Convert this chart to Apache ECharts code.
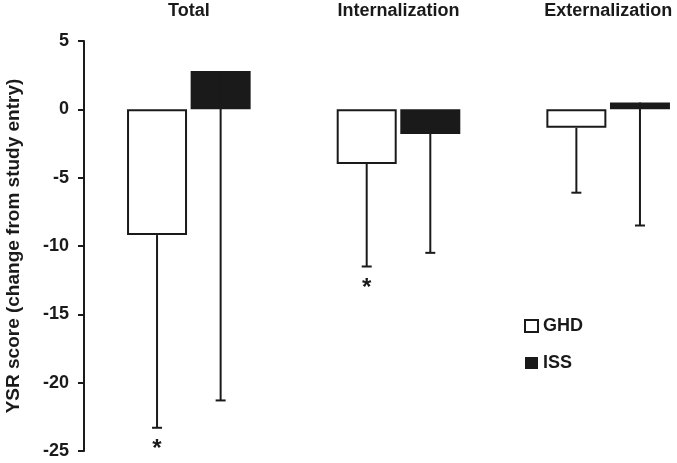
<!DOCTYPE html>
<html>
<head>
<meta charset="utf-8">
<script src="https://cdn.jsdelivr.net/npm/echarts@6/dist/echarts.min.js"></script>
<style>
  html, body { margin: 0; padding: 0; background: #fff; }
  #chart { width: 677px; height: 463px; }
</style>
</head>
<body>
<div id="chart"></div>
<script>
var categories = ['Total', 'Internalization', 'Externalization'];
var ghdMean = [-9.2, -4.0, -1.35];
var ghdLow = [-23.3, -11.5, -6.1];
var issMean = [2.8, -1.8, 0.5];
var issLow = [-21.3, -10.5, -8.5];
var ghdStar = [1, 1, 0];

var ink = '#1a1a1a';
var font = '"Liberation Sans", Arial, sans-serif';
var barW = 60;
var gapPx = 3.6;
var shift = (barW + gapPx) / 2;

function errData(mean, low, star) {
    var out = [];
    for (var i = 0; i < mean.length; i++) {
        out.push([i, mean[i], low[i], star ? star[i] : 0]);
    }
    return out;
}

function errRender(offset) {
    return function (params, api) {
        var x = api.coord([api.value(0), 0])[0] + offset;
        var yTop = api.coord([api.value(0), api.value(1)])[1];
        var yBot = api.coord([api.value(0), api.value(2)])[1];
        var kids = [
            { type: 'line', shape: { x1: x, y1: yTop, x2: x, y2: yBot }, style: { stroke: ink, lineWidth: 2 } },
            { type: 'line', shape: { x1: x - 5, y1: yBot, x2: x + 5, y2: yBot }, style: { stroke: ink, lineWidth: 2 } }
        ];
        if (api.value(3)) {
            kids.push({
                type: 'text',
                style: { text: '*', x: x, y: yBot + 10, fill: ink, font: 'bold 24px ' + font, align: 'center', verticalAlign: 'top' }
            });
        }
        return { type: 'group', children: kids };
    };
}

var chart = echarts.init(document.getElementById('chart'));
chart.setOption({
    animation: false,
    backgroundColor: '#fff',
    grid: { left: 84, top: 41, width: 629, bottom: 12, containLabel: false, outerBoundsMode: 'none' },
    legend: {
        orient: 'vertical',
        left: 524,
        top: 317,
        padding: 0,
        itemWidth: 13,
        itemHeight: 12,
        itemGap: 19,
        textStyle: { color: ink, fontFamily: font, fontWeight: 'bold', fontSize: 18 },
        data: [
            { name: 'GHD', icon: 'rect', itemStyle: { color: '#fff', borderColor: ink, borderWidth: 2 } },
            { name: 'ISS', icon: 'rect', itemStyle: { color: ink, borderWidth: 0 } }
        ]
    },
    xAxis: {
        type: 'category',
        position: 'top',
        data: categories,
        axisLine: { show: false },
        axisTick: { show: false },
        axisLabel: { margin: 21, color: ink, fontFamily: font, fontWeight: 'bold', fontSize: 18 }
    },
    yAxis: {
        type: 'value',
        min: -25,
        max: 5,
        interval: 5,
        name: 'YSR score (change from study entry)',
        nameLocation: 'middle',
        nameGap: 61,
        nameTextStyle: { color: ink, fontFamily: font, fontWeight: 'bold', fontSize: 19 },
        axisLine: { show: true, lineStyle: { color: ink, width: 2 } },
        axisTick: { show: true, length: 6, lineStyle: { color: ink, width: 2 } },
        axisLabel: { margin: 15, color: ink, fontFamily: font, fontWeight: 'bold', fontSize: 18 },
        splitLine: { show: false }
    },
    series: [
        {
            name: 'GHD',
            type: 'bar',
            barWidth: barW,
            barGap: (gapPx / barW * 100) + '%',
            data: ghdMean,
            itemStyle: { color: '#fff', borderColor: ink, borderWidth: 2 }
        },
        {
            name: 'ISS',
            type: 'bar',
            barWidth: barW,
            data: issMean,
            itemStyle: { color: ink }
        },
        {
            type: 'custom',
            z: 5,
            renderItem: errRender(-shift),
            data: errData(ghdMean, ghdLow, ghdStar)
        },
        {
            type: 'custom',
            z: 5,
            renderItem: errRender(shift),
            data: errData(issMean, issLow)
        }
    ]
});
</script>
</body>
</html>
